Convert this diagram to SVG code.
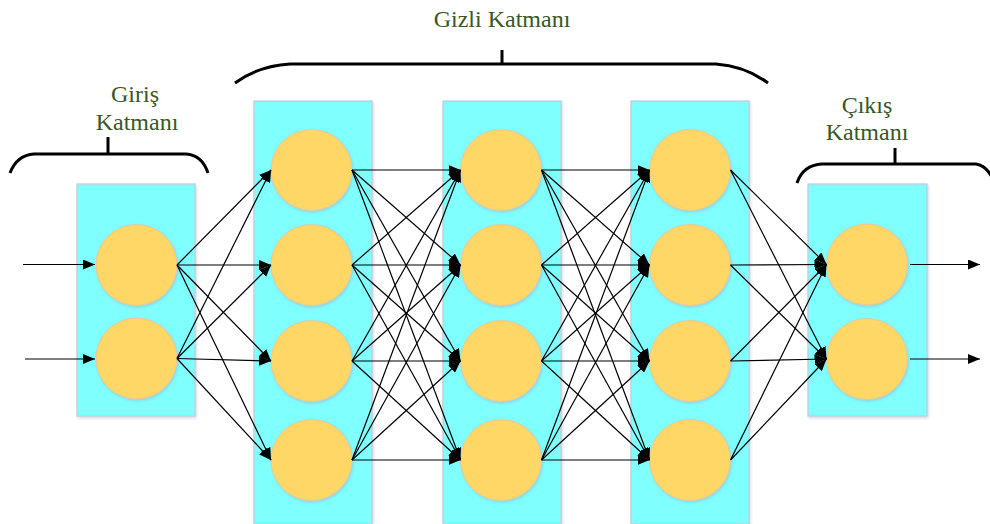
<svg xmlns="http://www.w3.org/2000/svg" width="990" height="524" viewBox="0 0 990 524">
  <defs>
    <marker id="arrow" viewBox="0 0 12 10" refX="12" refY="5" markerWidth="12" markerHeight="10" markerUnits="userSpaceOnUse" orient="auto">
      <path d="M0,0 L12,5 L0,10 Z" fill="#000"/>
    </marker>
    <filter id="soft" x="-10%" y="-10%" width="125%" height="125%">
      <feDropShadow dx="1" dy="1.5" stdDeviation="1.5" flood-color="#8fa6c8" flood-opacity="0.45"/>
    </filter>
  </defs>
  <style>
    .layer { fill: #80ffff; stroke: #c4ccd4; stroke-width: 1.2; filter: url(#soft); }
    .neuron { fill: #fed766; stroke: #e8c89a; stroke-width: 1; filter: url(#soft); }
    .edge { stroke: #000; stroke-width: 1.2; fill: none; marker-end: url(#arrow); }
    .brace { stroke: #000; stroke-width: 3; fill: none; }
    .label { font-family: "Liberation Serif", "Times New Roman", serif; font-size: 24px; fill: #385723; text-anchor: middle; }
  </style>

  <rect width="990" height="524" fill="#fff"/>

  <!-- layer panels -->
  <g id="input-layer"><rect class="layer" x="77" y="184" width="118" height="232"/></g>
  <g id="hidden-layer-1"><rect class="layer" x="254" y="101" width="118" height="423"/></g>
  <g id="hidden-layer-2"><rect class="layer" x="443" y="101" width="118" height="423"/></g>
  <g id="hidden-layer-3"><rect class="layer" x="631" y="101" width="118" height="423"/></g>
  <g id="output-layer"><rect class="layer" x="808" y="184" width="119" height="232"/></g>

  <!-- neurons -->
  <g id="in1"><circle class="neuron" cx="136.5" cy="265" r="40.5"/></g>
  <g id="in2"><circle class="neuron" cx="136.5" cy="358.5" r="40.5"/></g>

  <g id="h1a"><circle class="neuron" cx="311.5" cy="170" r="40.5"/></g>
  <g id="h1b"><circle class="neuron" cx="311.5" cy="265" r="40.5"/></g>
  <g id="h1c"><circle class="neuron" cx="311.5" cy="361" r="40.5"/></g>
  <g id="h1d"><circle class="neuron" cx="311.5" cy="460" r="40.5"/></g>

  <g id="h2a"><circle class="neuron" cx="501" cy="170" r="40.5"/></g>
  <g id="h2b"><circle class="neuron" cx="501" cy="265" r="40.5"/></g>
  <g id="h2c"><circle class="neuron" cx="501" cy="361" r="40.5"/></g>
  <g id="h2d"><circle class="neuron" cx="501" cy="460" r="40.5"/></g>

  <g id="h3a"><circle class="neuron" cx="690" cy="170" r="40.5"/></g>
  <g id="h3b"><circle class="neuron" cx="690" cy="265" r="40.5"/></g>
  <g id="h3c"><circle class="neuron" cx="690" cy="361" r="40.5"/></g>
  <g id="h3d"><circle class="neuron" cx="690" cy="460" r="40.5"/></g>

  <g id="out1"><circle class="neuron" cx="867" cy="264.5" r="40.5"/></g>
  <g id="out2"><circle class="neuron" cx="867" cy="359" r="40.5"/></g>

  <!-- connections -->
  <g id="connectors">
    <!-- external inputs -->
    <line class="edge" x1="23" y1="264.5" x2="95" y2="264.5"/>
    <line class="edge" x1="25" y1="359" x2="95" y2="359"/>

    <!-- input -> hidden 1 -->
    <line class="edge" x1="177" y1="265" x2="271" y2="170"/>
    <line class="edge" x1="177" y1="265" x2="271" y2="265"/>
    <line class="edge" x1="177" y1="265" x2="271" y2="361"/>
    <line class="edge" x1="177" y1="265" x2="271" y2="460"/>
    <line class="edge" x1="177" y1="358.5" x2="271" y2="170"/>
    <line class="edge" x1="177" y1="358.5" x2="271" y2="265"/>
    <line class="edge" x1="177" y1="358.5" x2="271" y2="361"/>
    <line class="edge" x1="177" y1="358.5" x2="271" y2="460"/>

    <!-- hidden 1 -> hidden 2 -->
    <line class="edge" x1="352" y1="170" x2="460.5" y2="170"/>
    <line class="edge" x1="352" y1="170" x2="460.5" y2="265"/>
    <line class="edge" x1="352" y1="170" x2="460.5" y2="361"/>
    <line class="edge" x1="352" y1="170" x2="460.5" y2="460"/>
    <line class="edge" x1="352" y1="265" x2="460.5" y2="170"/>
    <line class="edge" x1="352" y1="265" x2="460.5" y2="265"/>
    <line class="edge" x1="352" y1="265" x2="460.5" y2="361"/>
    <line class="edge" x1="352" y1="265" x2="460.5" y2="460"/>
    <line class="edge" x1="352" y1="361" x2="460.5" y2="170"/>
    <line class="edge" x1="352" y1="361" x2="460.5" y2="265"/>
    <line class="edge" x1="352" y1="361" x2="460.5" y2="361"/>
    <line class="edge" x1="352" y1="361" x2="460.5" y2="460"/>
    <line class="edge" x1="352" y1="460" x2="460.5" y2="170"/>
    <line class="edge" x1="352" y1="460" x2="460.5" y2="265"/>
    <line class="edge" x1="352" y1="460" x2="460.5" y2="361"/>
    <line class="edge" x1="352" y1="460" x2="460.5" y2="460"/>

    <!-- hidden 2 -> hidden 3 -->
    <line class="edge" x1="541.5" y1="170" x2="649.5" y2="170"/>
    <line class="edge" x1="541.5" y1="170" x2="649.5" y2="265"/>
    <line class="edge" x1="541.5" y1="170" x2="649.5" y2="361"/>
    <line class="edge" x1="541.5" y1="170" x2="649.5" y2="460"/>
    <line class="edge" x1="541.5" y1="265" x2="649.5" y2="170"/>
    <line class="edge" x1="541.5" y1="265" x2="649.5" y2="265"/>
    <line class="edge" x1="541.5" y1="265" x2="649.5" y2="361"/>
    <line class="edge" x1="541.5" y1="265" x2="649.5" y2="460"/>
    <line class="edge" x1="541.5" y1="361" x2="649.5" y2="170"/>
    <line class="edge" x1="541.5" y1="361" x2="649.5" y2="265"/>
    <line class="edge" x1="541.5" y1="361" x2="649.5" y2="361"/>
    <line class="edge" x1="541.5" y1="361" x2="649.5" y2="460"/>
    <line class="edge" x1="541.5" y1="460" x2="649.5" y2="170"/>
    <line class="edge" x1="541.5" y1="460" x2="649.5" y2="265"/>
    <line class="edge" x1="541.5" y1="460" x2="649.5" y2="361"/>
    <line class="edge" x1="541.5" y1="460" x2="649.5" y2="460"/>

    <!-- hidden 3 -> output -->
    <line class="edge" x1="730.5" y1="170" x2="826.5" y2="264.5"/>
    <line class="edge" x1="730.5" y1="170" x2="826.5" y2="359"/>
    <line class="edge" x1="730.5" y1="265" x2="826.5" y2="264.5"/>
    <line class="edge" x1="730.5" y1="265" x2="826.5" y2="359"/>
    <line class="edge" x1="730.5" y1="361" x2="826.5" y2="264.5"/>
    <line class="edge" x1="730.5" y1="361" x2="826.5" y2="359"/>
    <line class="edge" x1="730.5" y1="460" x2="826.5" y2="264.5"/>
    <line class="edge" x1="730.5" y1="460" x2="826.5" y2="359"/>

    <!-- outputs -->
    <line class="edge" x1="910" y1="264.5" x2="980" y2="264.5"/>
    <line class="edge" x1="910" y1="359" x2="980" y2="359"/>
  </g>

  <!-- layer braces and titles -->
  <g id="input-title">
    <path class="brace" d="M10,173 Q17,155 34,154 L186,154 Q202,155 208,173"/>
    <path class="brace" d="M108,137 V154"/>
    <text class="label" x="135" y="102">Giriş</text>
    <text class="label" x="137" y="130">Katmanı</text>
  </g>
  <g id="hidden-title">
    <path class="brace" d="M235,83 Q258,66 290,64 L716,64 Q745,66 768,83"/>
    <path class="brace" d="M502,50 V64"/>
    <text class="label" x="502" y="27">Gizli Katmanı</text>
  </g>
  <g id="output-title">
    <path class="brace" d="M797,183 Q803,165 822,164 L976,164 Q988,166 994,182"/>
    <path class="brace" d="M895,148 V164"/>
    <text class="label" x="867" y="113">Çıkış</text>
    <text class="label" x="867" y="140">Katmanı</text>
  </g>
</svg>
